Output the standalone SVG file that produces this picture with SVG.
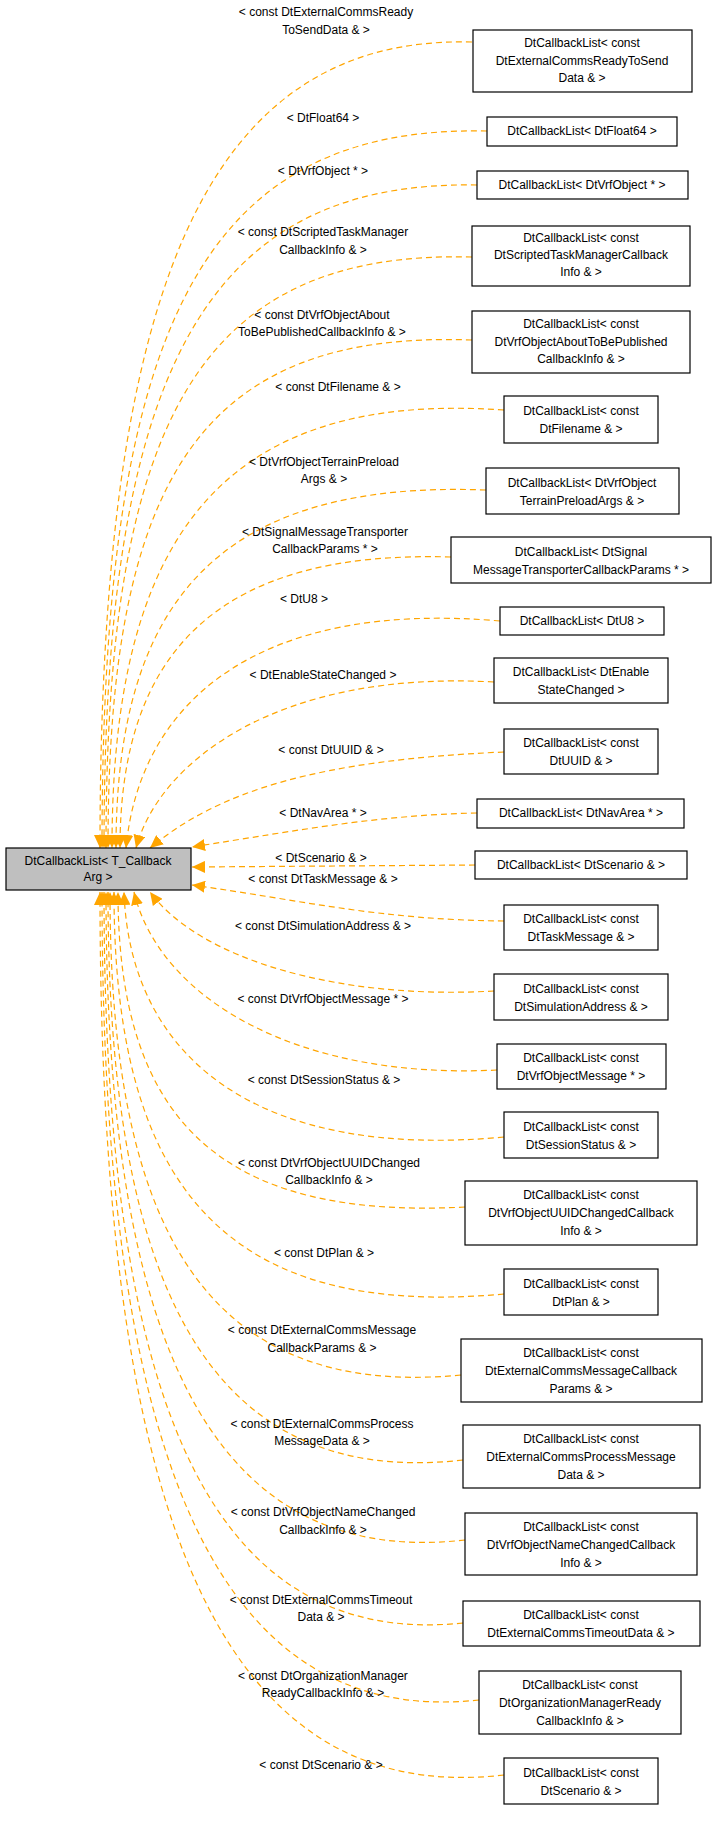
<svg xmlns="http://www.w3.org/2000/svg" width="717" height="1832" viewBox="0 0 717 1832">
<style>
.n rect{fill:#fff;stroke:#000;stroke-width:1.2}
text{font-family:"Liberation Sans",Arial,sans-serif;font-size:12px;fill:#000;text-anchor:middle}
.e path{fill:none;stroke:#ffa500;stroke-width:1.2;stroke-dasharray:6,4;marker-end:url(#a)}
</style>
<defs><marker id="a" markerUnits="userSpaceOnUse" markerWidth="14" markerHeight="12" refX="13" refY="6" orient="auto"><path d="M0,0L13,6L0,12z" fill="#ffa500"/></marker></defs>
<rect width="717" height="1832" fill="#fff"/>
<g class="e">
<path d="M472,42 C200,35 100,300 100,848"/>
<path d="M487,131 C200,125 102,330 102,848"/>
<path d="M477,185 C200,180 104,380 104,848"/>
<path d="M472,257 C200,250 106,420 106,848"/>
<path d="M472,340 C200,330 108,480 108,848"/>
<path d="M504,410 C220,390 112,540 112,848"/>
<path d="M486,490 C220,480 116,600 116,848"/>
<path d="M451,557 C220,550 120,650 120,848"/>
<path d="M500,621 C260,600 140,700 126,848"/>
<path d="M494,682 C280,670 160,760 136,848"/>
<path d="M504,752 C320,760 220,790 150,848"/>
<path d="M477,813 C380,815 300,830 192,847"/>
<path d="M475,865 L192,867"/>
<path d="M504,921 C380,920 300,900 192,885"/>
<path d="M494,991 C340,1000 200,960 150,892"/>
<path d="M497,1070 C300,1080 160,1000 134,892"/>
<path d="M504,1137 C260,1160 130,1060 124,892"/>
<path d="M465,1207 C220,1220 118,1120 118,892"/>
<path d="M504,1294 C220,1320 114,1180 114,892"/>
<path d="M461,1375 C200,1400 110,1220 110,892"/>
<path d="M463,1460 C200,1490 108,1270 108,892"/>
<path d="M465,1540 C200,1570 106,1320 106,892"/>
<path d="M463,1623 C200,1650 104,1380 104,892"/>
<path d="M479,1700 C200,1730 102,1420 102,892"/>
<path d="M504,1775 C200,1810 100,1470 100,892"/>
</g>
<g id="main"><rect x="6" y="848" width="185" height="42" fill="#bfbfbf" stroke="#000" stroke-width="1.2"/><text x="98" y="865">DtCallbackList&lt; T_Callback</text><text x="98" y="881">Arg &gt;</text></g>
<g class="n">
<g id="n1"><rect x="473" y="30" width="219" height="62"/><text x="582" y="47">DtCallbackList&lt; const</text><text x="582" y="65">DtExternalCommsReadyToSend</text><text x="582" y="82">Data &amp; &gt;</text></g>
<g id="n2"><rect x="487" y="117" width="190" height="29"/><text x="582" y="135">DtCallbackList&lt; DtFloat64 &gt;</text></g>
<g id="n3"><rect x="477" y="171" width="211" height="28"/><text x="582" y="189">DtCallbackList&lt; DtVrfObject * &gt;</text></g>
<g id="n4"><rect x="472" y="226" width="218" height="60"/><text x="581" y="242">DtCallbackList&lt; const</text><text x="581" y="259">DtScriptedTaskManagerCallback</text><text x="581" y="276">Info &amp; &gt;</text></g>
<g id="n5"><rect x="472" y="311" width="218" height="62"/><text x="581" y="328">DtCallbackList&lt; const</text><text x="581" y="346">DtVrfObjectAboutToBePublished</text><text x="581" y="363">CallbackInfo &amp; &gt;</text></g>
<g id="n6"><rect x="504" y="396" width="154" height="47"/><text x="581" y="415">DtCallbackList&lt; const</text><text x="581" y="433">DtFilename &amp; &gt;</text></g>
<g id="n7"><rect x="486" y="468" width="193" height="46"/><text x="582" y="487">DtCallbackList&lt; DtVrfObject</text><text x="582" y="505">TerrainPreloadArgs &amp; &gt;</text></g>
<g id="n8"><rect x="451" y="537" width="260" height="46"/><text x="581" y="556">DtCallbackList&lt; DtSignal</text><text x="581" y="574">MessageTransporterCallbackParams * &gt;</text></g>
<g id="n9"><rect x="500" y="607" width="164" height="28"/><text x="582" y="625">DtCallbackList&lt; DtU8 &gt;</text></g>
<g id="n10"><rect x="494" y="658" width="174" height="45"/><text x="581" y="676">DtCallbackList&lt; DtEnable</text><text x="581" y="694">StateChanged &gt;</text></g>
<g id="n11"><rect x="504" y="729" width="154" height="45"/><text x="581" y="747">DtCallbackList&lt; const</text><text x="581" y="765">DtUUID &amp; &gt;</text></g>
<g id="n12"><rect x="477" y="799" width="207" height="29"/><text x="581" y="817">DtCallbackList&lt; DtNavArea * &gt;</text></g>
<g id="n13"><rect x="475" y="851" width="212" height="28"/><text x="581" y="869">DtCallbackList&lt; DtScenario &amp; &gt;</text></g>
<g id="n14"><rect x="504" y="905" width="154" height="45"/><text x="581" y="923">DtCallbackList&lt; const</text><text x="581" y="941">DtTaskMessage &amp; &gt;</text></g>
<g id="n15"><rect x="494" y="974" width="174" height="46"/><text x="581" y="993">DtCallbackList&lt; const</text><text x="581" y="1011">DtSimulationAddress &amp; &gt;</text></g>
<g id="n16"><rect x="497" y="1044" width="169" height="45"/><text x="581" y="1062">DtCallbackList&lt; const</text><text x="581" y="1080">DtVrfObjectMessage * &gt;</text></g>
<g id="n17"><rect x="504" y="1112" width="154" height="46"/><text x="581" y="1131">DtCallbackList&lt; const</text><text x="581" y="1149">DtSessionStatus &amp; &gt;</text></g>
<g id="n18"><rect x="465" y="1181" width="232" height="64"/><text x="581" y="1199">DtCallbackList&lt; const</text><text x="581" y="1217">DtVrfObjectUUIDChangedCallback</text><text x="581" y="1235">Info &amp; &gt;</text></g>
<g id="n19"><rect x="504" y="1269" width="154" height="46"/><text x="581" y="1288">DtCallbackList&lt; const</text><text x="581" y="1306">DtPlan &amp; &gt;</text></g>
<g id="n20"><rect x="461" y="1339" width="241" height="63"/><text x="581" y="1357">DtCallbackList&lt; const</text><text x="581" y="1375">DtExternalCommsMessageCallback</text><text x="581" y="1393">Params &amp; &gt;</text></g>
<g id="n21"><rect x="463" y="1425" width="237" height="63"/><text x="581" y="1443">DtCallbackList&lt; const</text><text x="581" y="1461">DtExternalCommsProcessMessage</text><text x="581" y="1479">Data &amp; &gt;</text></g>
<g id="n22"><rect x="465" y="1513" width="232" height="62"/><text x="581" y="1531">DtCallbackList&lt; const</text><text x="581" y="1549">DtVrfObjectNameChangedCallback</text><text x="581" y="1567">Info &amp; &gt;</text></g>
<g id="n23"><rect x="463" y="1601" width="237" height="45"/><text x="581" y="1619">DtCallbackList&lt; const</text><text x="581" y="1637">DtExternalCommsTimeoutData &amp; &gt;</text></g>
<g id="n24"><rect x="479" y="1671" width="202" height="63"/><text x="580" y="1689">DtCallbackList&lt; const</text><text x="580" y="1707">DtOrganizationManagerReady</text><text x="580" y="1725">CallbackInfo &amp; &gt;</text></g>
<g id="n25"><rect x="504" y="1758" width="154" height="46"/><text x="581" y="1777">DtCallbackList&lt; const</text><text x="581" y="1795">DtScenario &amp; &gt;</text></g>
</g>
<g id="labels">
<text x="326" y="16">&lt; const DtExternalCommsReady</text><text x="326" y="34">ToSendData &amp; &gt;</text>
<text x="323" y="122">&lt; DtFloat64 &gt;</text>
<text x="323" y="175">&lt; DtVrfObject * &gt;</text>
<text x="323" y="236">&lt; const DtScriptedTaskManager</text><text x="323" y="254">CallbackInfo &amp; &gt;</text>
<text x="322" y="319">&lt; const DtVrfObjectAbout</text><text x="322" y="336">ToBePublishedCallbackInfo &amp; &gt;</text>
<text x="338" y="391">&lt; const DtFilename &amp; &gt;</text>
<text x="324" y="466">&lt; DtVrfObjectTerrainPreload</text><text x="324" y="483">Args &amp; &gt;</text>
<text x="325" y="536">&lt; DtSignalMessageTransporter</text><text x="325" y="553">CallbackParams * &gt;</text>
<text x="304" y="603">&lt; DtU8 &gt;</text>
<text x="323" y="679">&lt; DtEnableStateChanged &gt;</text>
<text x="331" y="754">&lt; const DtUUID &amp; &gt;</text>
<text x="323" y="817">&lt; DtNavArea * &gt;</text>
<text x="321" y="862">&lt; DtScenario &amp; &gt;</text>
<text x="323" y="883">&lt; const DtTaskMessage &amp; &gt;</text>
<text x="323" y="930">&lt; const DtSimulationAddress &amp; &gt;</text>
<text x="323" y="1003">&lt; const DtVrfObjectMessage * &gt;</text>
<text x="324" y="1084">&lt; const DtSessionStatus &amp; &gt;</text>
<text x="329" y="1167">&lt; const DtVrfObjectUUIDChanged</text><text x="329" y="1184">CallbackInfo &amp; &gt;</text>
<text x="324" y="1257">&lt; const DtPlan &amp; &gt;</text>
<text x="322" y="1334">&lt; const DtExternalCommsMessage</text><text x="322" y="1352">CallbackParams &amp; &gt;</text>
<text x="322" y="1428">&lt; const DtExternalCommsProcess</text><text x="322" y="1445">MessageData &amp; &gt;</text>
<text x="323" y="1516">&lt; const DtVrfObjectNameChanged</text><text x="323" y="1534">CallbackInfo &amp; &gt;</text>
<text x="321" y="1604">&lt; const DtExternalCommsTimeout</text><text x="321" y="1621">Data &amp; &gt;</text>
<text x="323" y="1680">&lt; const DtOrganizationManager</text><text x="323" y="1697">ReadyCallbackInfo &amp; &gt;</text>
<text x="321" y="1769">&lt; const DtScenario &amp; &gt;</text>
</g>
</svg>
